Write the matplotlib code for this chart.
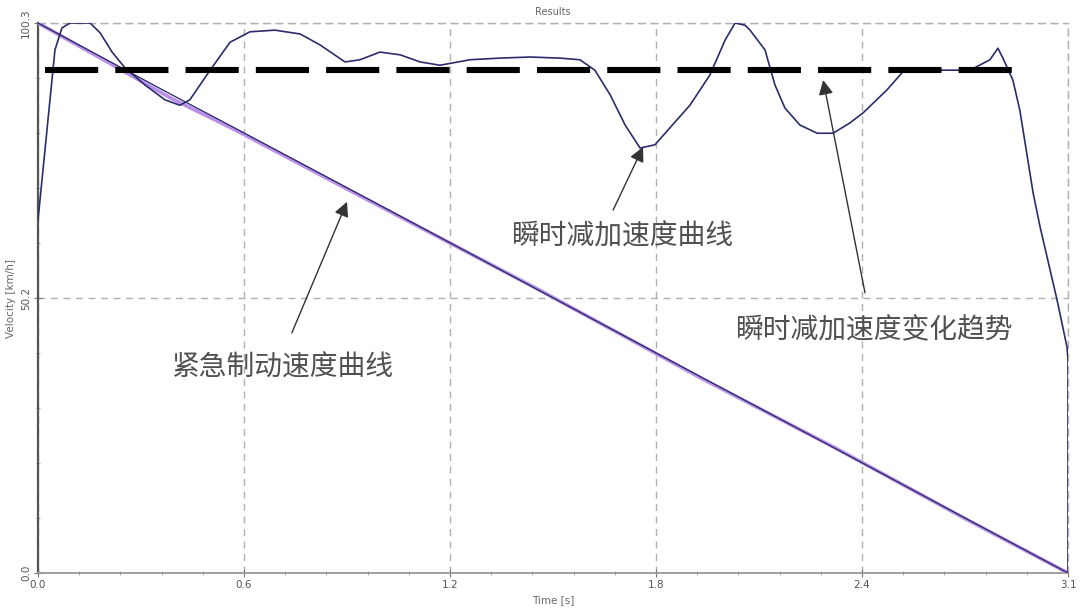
import matplotlib
matplotlib.use("Agg")
from matplotlib import pyplot as plt
from matplotlib.ticker import AutoMinorLocator

# time axis runs 0 .. 3.1 s, velocity axis 0 .. 100.3 km/h
t_max = 3.1
v_max = 100.3

# instantaneous deceleration curve (drawn on the velocity scale)
decel_t = [0.000, 0.012, 0.036, 0.051, 0.072, 0.096, 0.157, 0.187, 0.223, 0.262,
           0.322, 0.382, 0.427, 0.457, 0.518, 0.578, 0.638, 0.713, 0.789, 0.849,
           0.924, 0.969, 1.029, 1.090, 1.150, 1.210, 1.300, 1.390, 1.481, 1.571,
           1.631, 1.676, 1.722, 1.767, 1.812, 1.857, 1.902, 1.962, 2.022, 2.068,
           2.098, 2.128, 2.143, 2.188, 2.218, 2.248, 2.293, 2.345, 2.393, 2.444,
           2.483, 2.555, 2.603, 2.646, 2.715, 2.805, 2.865, 2.889, 2.904, 2.934,
           2.955, 2.995, 3.016, 3.067, 3.097, 3.100, 3.100]
decel_v = [64.4, 71.7, 86.3, 95.4, 99.4, 100.3, 100.3, 98.5, 95.0, 92.1,
           89.0, 86.3, 85.3, 86.3, 91.7, 96.8, 98.7, 99.0, 98.3, 96.3,
           93.2, 93.6, 95.0, 94.5, 93.2, 92.6, 93.6, 93.9, 94.1, 93.9,
           93.6, 91.7, 87.2, 81.7, 77.5, 78.1, 81.2, 85.3, 90.8, 97.2,
           100.3, 99.9, 99.0, 95.4, 89.0, 84.8, 81.7, 80.2, 80.2, 82.1,
           83.9, 88.1, 91.4, 91.7, 91.7, 91.7, 93.6, 95.7, 93.9, 89.9,
           84.4, 69.3, 63.1, 49.8, 41.2, 38.8, 0.0]

# emergency braking velocity, measured (purple) and fitted (dark)
vel_t = [0.0, 0.2, 0.4, 0.6, 1.0, 1.5, 2.0, 2.4, 2.8, 3.1]
vel_meas = [100.3, 93.5, 86.6, 80.6, 67.8, 51.9, 35.4, 22.8, 9.6, 0.0]
vel_fit = [100.3, 93.8, 87.3, 80.9, 68.0, 51.8, 35.6, 22.7, 9.7, 0.0]

# trend of the instantaneous deceleration
trend_t = [0.021, 2.94]
trend_v = [91.7, 91.7]

x_ticks = [0.0, 0.62, 1.24, 1.86, 2.48, 3.1]
x_labels = ['0.0', '0.6', '1.2', '1.8', '2.4', '3.1']
y_ticks = [0.0, 50.15, 100.3]
y_labels = ['0.0', '50.2', '100.3']

fig = plt.figure(figsize=(10.8, 6.09), dpi=100)
ax = fig.add_axes([0.0352, 0.0591, 0.9537, 0.9031])

grid_col = '#b0b0b0'
ax.plot(vel_t, vel_meas, color='#b890ea', lw=2.6, zorder=3)
ax.plot(vel_t, vel_fit, color='#262660', lw=0.9, zorder=4)
ax.plot(decel_t, decel_v, color='#2c2c6c', lw=1.2, zorder=4)
ax.plot(trend_t, trend_v, color='black', lw=4.4, dashes=(8.7, 2.8), zorder=5,
        solid_capstyle='butt', dash_capstyle='butt')

ax.set_xlim(0, t_max)
ax.set_ylim(0, v_max)
ax.set_xticks(x_ticks)
ax.set_xticklabels(x_labels)
ax.set_yticks(y_ticks)
ax.set_yticklabels(y_labels, rotation=90, va='center')
ax.xaxis.set_minor_locator(AutoMinorLocator(5))
ax.yaxis.set_minor_locator(AutoMinorLocator(5))
ax.tick_params(axis='both', which='major', direction='inout', length=6,
               color='#777777', labelsize=7.5, labelcolor='#555555', pad=2)
ax.tick_params(axis='both', which='minor', direction='inout', length=3,
               color='#999999')

for s in ['top', 'right']:
    ax.spines[s].set_linestyle((0, (5, 4)))
    ax.spines[s].set_color(grid_col)
    ax.spines[s].set_linewidth(1)
ax.spines['left'].set_color('#555555')
ax.spines['left'].set_linewidth(1.6)
ax.spines['bottom'].set_color('#999999')
ax.spines['bottom'].set_linewidth(1.3)

ax.grid(True, which='major', color=grid_col, linestyle=(0, (5, 4)), lw=1)
ax.set_axisbelow(True)

ax.set_title('Results', fontsize=7, color='#666666', pad=6)
ax.set_ylabel('Velocity [km/h]', fontsize=7.5, color='#666666', labelpad=4)
ax.set_xlabel('Time [s]', fontsize=7.5, color='#666666', labelpad=4)

cjk = ['Noto Sans CJK SC', 'DejaVu Sans']
arrow = dict(arrowstyle='-|>', color='#333333', lw=1, mutation_scale=22,
             shrinkA=0, shrinkB=0)
ax.annotate('', xy=(1.821, 77.7), xytext=(1.731, 66.2), arrowprops=arrow)
ax.text(1.758, 61.3, '瞬时减加速度曲线', family=cjk, fontsize=20,
        color='#505050', ha='center', va='center')
ax.annotate('', xy=(2.363, 89.9), xytext=(2.489, 51.1), arrowprops=arrow)
ax.text(2.516, 44.3, '瞬时减加速度变化趋势', family=cjk, fontsize=20,
        color='#505050', ha='center', va='center')
ax.annotate('', xy=(0.930, 67.7), xytext=(0.764, 43.8), arrowprops=arrow)
ax.text(0.734, 37.4, '紧急制动速度曲线', family=cjk, fontsize=20,
        color='#505050', ha='center', va='center')

fig.savefig('out.png', dpi=100)
